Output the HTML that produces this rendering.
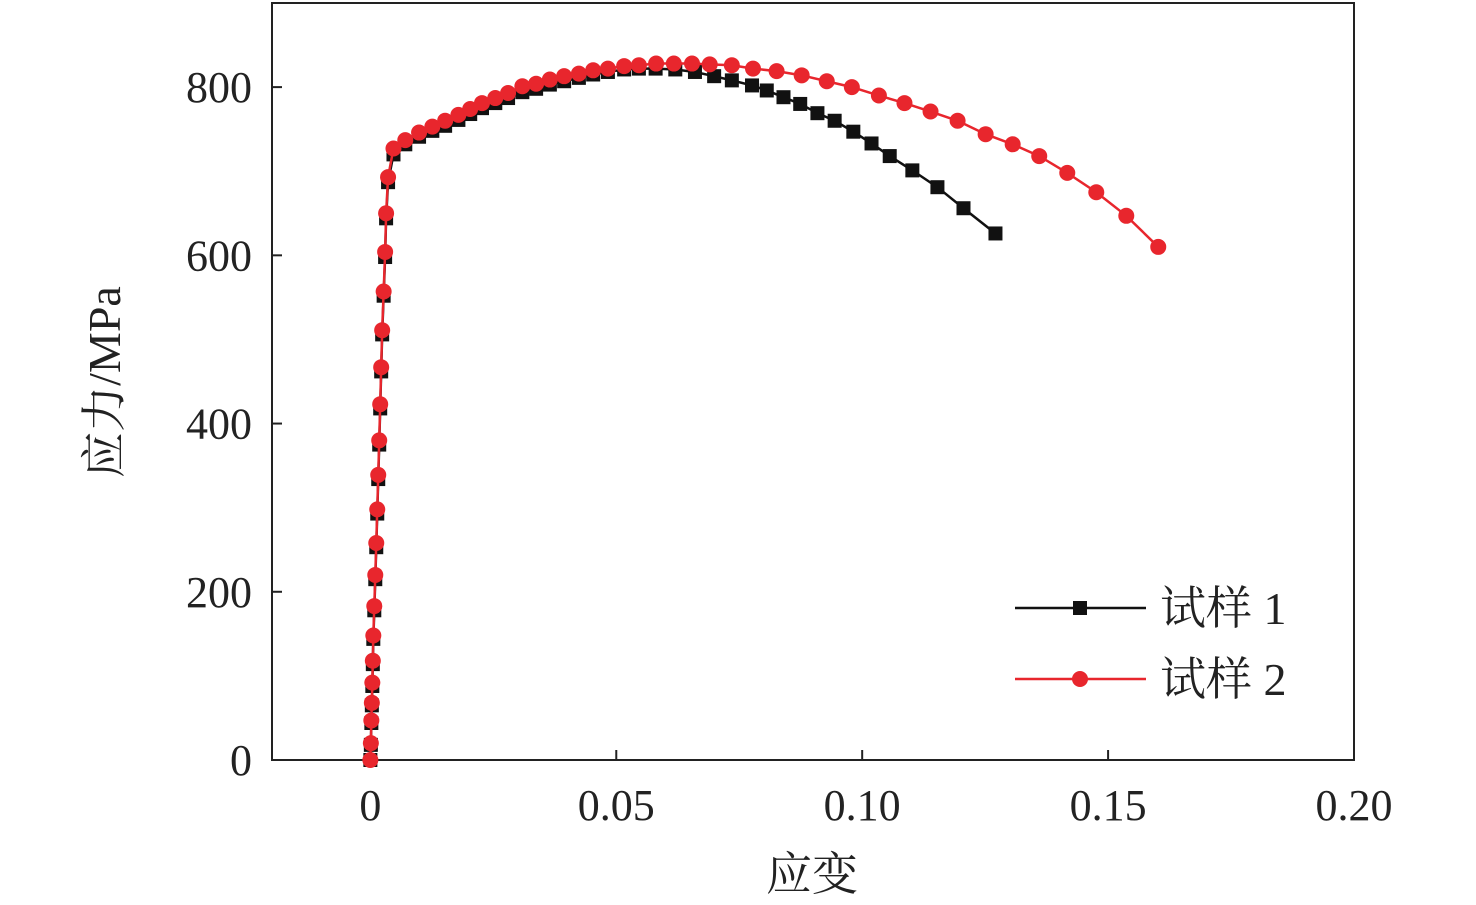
<!DOCTYPE html>
<html><head><meta charset="utf-8"><style>
html,body{margin:0;padding:0;background:#fff;}
svg{display:block;font-family:"Liberation Serif","Noto Serif CJK SC",serif;}
</style></head><body>
<svg id="chart" width="1476" height="905"></svg>
<script>
const xTicks=[0,0.05,0.10,0.15,0.20];
const xTickLabels=["0","0.05","0.10","0.15","0.20"];
const yTicks=[0,200,400,600,800];
const yTickLabels=["0","200","400","600","800"];
const s1Strain=[0,0.0001,0.0002,0.0003,0.0004,0.0005,0.0006,0.0008,0.001,0.0012,0.0014,0.0016,0.0018,0.002,0.0022,0.0024,0.0027,0.003,0.0032,0.0036,0.0047,0.0071,0.0099,0.0126,0.0152,0.0179,0.0203,0.0227,0.0254,0.028,0.0309,0.0337,0.0365,0.0394,0.0424,0.0453,0.0483,0.0516,0.0546,0.058,0.062,0.066,0.0699,0.0735,0.0776,0.0806,0.084,0.0874,0.0909,0.0944,0.0982,0.1019,0.1056,0.1102,0.1153,0.1206,0.1271];
const s1Stress=[0,18,44,65,88,114,144,178,215,253,293,334,375,418,462,506,552,598,644,687,720,732,741,748,754,761,768,775,781,787,794,798,803,807,811,815,818,821,822,822,821,818,813,808,802,796,788,780,769,760,747,733,718,701,681,656,626];
const s2Strain=[0,0.0001,0.0002,0.0003,0.0004,0.0005,0.0006,0.0008,0.001,0.0012,0.0014,0.0016,0.0018,0.002,0.0022,0.0024,0.0027,0.003,0.0032,0.0036,0.0047,0.0071,0.0099,0.0126,0.0152,0.0179,0.0203,0.0227,0.0254,0.028,0.0309,0.0337,0.0365,0.0394,0.0424,0.0453,0.0483,0.0516,0.0546,0.0581,0.0617,0.0654,0.069,0.0735,0.0778,0.0826,0.0877,0.0928,0.0979,0.1034,0.1086,0.1139,0.1194,0.1251,0.1306,0.136,0.1417,0.1476,0.1537,0.1602];
const s2Stress=[0,20,47,68,92,118,148,183,220,258,298,339,380,423,467,511,557,604,650,693,727,737,746,753,760,767,774,781,787,793,801,804,809,813,816,820,822,825,826,828,828,828,827,826,822,819,814,807,800,790,781,771,760,744,732,718,698,675,647,610];

const L=272,R=1354,T=3,B=760,XMIN=-0.02,XMAX=0.2,YMIN=0,YMAX=900;
const xs=v=>L+(v-XMIN)/(XMAX-XMIN)*(R-L);
const ys=v=>B-(v-YMIN)/(YMAX-YMIN)*(B-T);
const svg=document.getElementById('chart');
const NS='http://www.w3.org/2000/svg';
function mk(tag,attrs,parent){const e=document.createElementNS(NS,tag);for(const k in attrs)e.setAttribute(k,attrs[k]);(parent||svg).appendChild(e);return e;}

const frame=mk('rect',{x:L,y:T,width:R-L,height:B-T,fill:'none',stroke:'#222',"stroke-width":2});



xTicks.forEach((t,i)=>{
  const tk=mk('line',{x1:xs(t),x2:xs(t),y1:B,y2:B-10,stroke:'#222',"stroke-width":2});
  
  
  const tx=mk('text',{x:xs(t),y:B+60,"font-size":44,"text-anchor":"middle",fill:'#222'});
  tx.textContent=xTickLabels[i];
  
  
});
yTicks.forEach((t,i)=>{
  const tk=mk('line',{x1:L,x2:L+10,y1:ys(t),y2:ys(t),stroke:'#222',"stroke-width":2});
  
  
  const tx=mk('text',{x:L-20,y:ys(t)+15,"font-size":44,"text-anchor":"end",fill:'#222'});
  tx.textContent=yTickLabels[i];
  
  
});
const xt=mk('text',{x:812,y:890,"font-size":46,"text-anchor":"middle",fill:'#222'});
xt.textContent='应变';


const yt=mk('text',{x:0,y:0,"font-size":46,"text-anchor":"middle",fill:'#222',transform:'translate(120,382) rotate(-90)'});
yt.textContent='应力/MPa';



function series(xsArr,ysArr,color,marker,name){
  const g=mk('g',{});
  
  
  const pts=xsArr.map((v,i)=>xs(v)+','+ys(ysArr[i])).join(' ');
  const pl=mk('polyline',{points:pts,fill:'none',stroke:color,"stroke-width":2.5},g);
  
  
  xsArr.forEach((v,i)=>{
    let m;
    if(marker==='sq') m=mk('rect',{x:xs(v)-7,y:ys(ysArr[i])-7,width:14,height:14,fill:color},g);
    else m=mk('circle',{cx:xs(v),cy:ys(ysArr[i]),r:8,fill:color},g);
    
    
  });
}
series(s1Strain,s1Stress,'#111','sq','series-sample-1');
series(s2Strain,s2Stress,'#e8262d','ci','series-sample-2');

function legend(y,color,marker,label,name){
  const g=mk('g',{});
  
  
  mk('line',{x1:1015,x2:1146,y1:y,y2:y,stroke:color,"stroke-width":2.5},g);
  if(marker==='sq') mk('rect',{x:1073,y:y-7,width:14,height:14,fill:color},g);
  else mk('circle',{cx:1080,cy:y,r:8,fill:color},g);
  const t=mk('text',{x:1160,y:y+16,"font-size":46,fill:'#222'},g);
  t.textContent=label;
}
legend(608,'#111','sq','试样 1','legend-entry-sample-1');
legend(679,'#e8262d','ci','试样 2','legend-entry-sample-2');
</script>
</body></html>
